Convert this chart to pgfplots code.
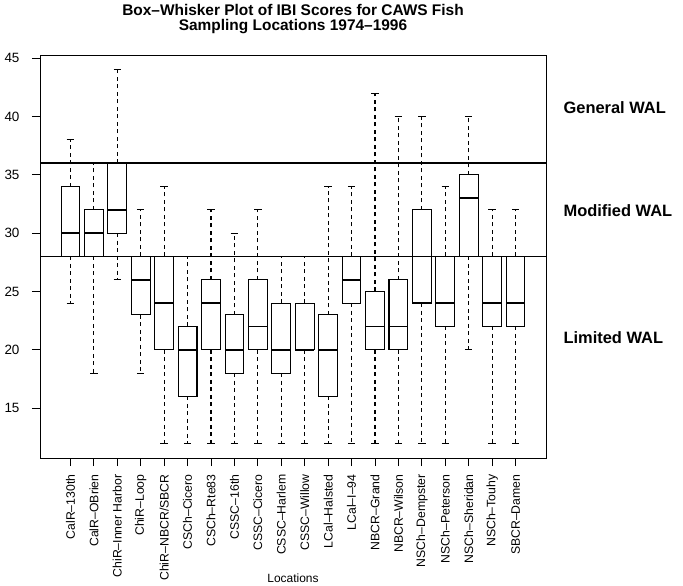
\documentclass[border=0pt]{standalone}
\usepackage{fontspec}
\setmainfont{Liberation Sans}
\usepackage{pgfplots}
\pgfplotsset{compat=1.18}
\usepgfplotslibrary{statistics}
\begin{document}
\begin{tikzpicture}
\useasboundingbox (0,0) rectangle (683bp,586bp);
\begin{axis}[
  at={(40bp,128bp)}, anchor=south west,
  scale only axis, width=506bp, height=403bp,
  xmin=-0.3, xmax=21.3, ymin=10.72, ymax=45.28,
  axis line style={line width=0.9bp},
  xtick={1,...,20},
  xticklabels={CalR--130th, CalR--OBrien, ChiR--Inner Harbor, ChiR--Loop, ChiR--NBCR/SBCR, CSCh--Cicero, CSCh--Rte83, CSSC--16th, CSSC--Cicero, CSSC--Harlem, CSSC--Willow, LCal--Halsted, LCal--I--94, NBCR--Grand, NBCR--Wilson, NSCh--Dempster, NSCh--Peterson, NSCh--Sheridan, NSCh--Touhy, SBCR--Damen},
  ytick={15,20,...,45},
  tick align=outside, xtick pos=left, ytick pos=left,
  major tick length=8bp,
  tick style={line width=0.9bp, black},
  /pgf/number format/assume math mode=true,
  yticklabel style={font=\fontsize{13.5}{16}\selectfont},
  xticklabel style={rotate=90, anchor=east, font=\fontsize{12.3}{14}\selectfont},
  xticklabel shift=5bp,
  yticklabel shift=9bp,
  xlabel={Locations},
  xlabel style={at={(axis description cs:0.5,0)}, anchor=center, yshift=-120bp, font=\fontsize{12}{14}\selectfont},
  title={Box--Whisker Plot of IBI Scores for CAWS Fish\\Sampling Locations 1974--1996},
  title style={align=center, font=\bfseries\fontsize{15.5}{14.5}\selectfont, at={(axis description cs:0.5,1)}, anchor=south, yshift=12bp},
  clip=false,
  boxplot/draw direction=y,
  boxplot/box extend=0.8,
  boxplot/every box/.style={line width=1.1bp},
  boxplot/every median/.style={line width=1.5bp},
  boxplot/draw/lower whisker/.code={%
    \draw[black, line width=1.1bp, dash pattern=on 4bp off 3.5bp]
      (boxplot box cs:\pgfplotsboxplotvalue{lower quartile},0.5) --
      (boxplot box cs:\pgfplotsboxplotvalue{lower whisker},0.5);
    \draw[black, line width=1.1bp]
      (boxplot box cs:\pgfplotsboxplotvalue{lower whisker},0.3) --
      (boxplot box cs:\pgfplotsboxplotvalue{lower whisker},0.7);
  },
  boxplot/draw/upper whisker/.code={%
    \draw[black, line width=1.1bp, dash pattern=on 4bp off 3.5bp]
      (boxplot box cs:\pgfplotsboxplotvalue{upper quartile},0.5) --
      (boxplot box cs:\pgfplotsboxplotvalue{upper whisker},0.5);
    \draw[black, line width=1.1bp]
      (boxplot box cs:\pgfplotsboxplotvalue{upper whisker},0.3) --
      (boxplot box cs:\pgfplotsboxplotvalue{upper whisker},0.7);
  },
]
% draw position, lower whisker, lower quartile, median, upper quartile, upper whisker
\addplot[black, boxplot prepared={draw position=1,  lower whisker=24, lower quartile=28, median=30, upper quartile=34, upper whisker=38}] coordinates {};
\addplot[black, boxplot prepared={draw position=2,  lower whisker=18, lower quartile=28, median=30, upper quartile=32, upper whisker=36}] coordinates {};
\addplot[black, boxplot prepared={draw position=3,  lower whisker=26, lower quartile=30, median=32, upper quartile=36, upper whisker=44}] coordinates {};
\addplot[black, boxplot prepared={draw position=4,  lower whisker=18, lower quartile=23, median=26, upper quartile=28, upper whisker=32}] coordinates {};
\addplot[black, boxplot prepared={draw position=5,  lower whisker=12, lower quartile=20, median=24, upper quartile=28, upper whisker=34}] coordinates {};
\addplot[black, boxplot prepared={draw position=6,  lower whisker=12, lower quartile=16, median=20, upper quartile=22, upper whisker=28}] coordinates {};
\addplot[black, boxplot prepared={draw position=7,  lower whisker=12, lower quartile=20, median=24, upper quartile=26, upper whisker=32}] coordinates {};
\addplot[black, boxplot prepared={draw position=8,  lower whisker=12, lower quartile=18, median=20, upper quartile=23, upper whisker=30}] coordinates {};
\addplot[black, boxplot prepared={draw position=9,  lower whisker=12, lower quartile=20, median=22, upper quartile=26, upper whisker=32}] coordinates {};
\addplot[black, boxplot prepared={draw position=10, lower whisker=12, lower quartile=18, median=20, upper quartile=24, upper whisker=28}] coordinates {};
\addplot[black, boxplot prepared={draw position=11, lower whisker=12, lower quartile=20, median=20, upper quartile=24, upper whisker=28}] coordinates {};
\addplot[black, boxplot prepared={draw position=12, lower whisker=12, lower quartile=16, median=20, upper quartile=23, upper whisker=34}] coordinates {};
\addplot[black, boxplot prepared={draw position=13, lower whisker=12, lower quartile=24, median=26, upper quartile=28, upper whisker=34}] coordinates {};
\addplot[black, boxplot prepared={draw position=14, lower whisker=12, lower quartile=20, median=22, upper quartile=25, upper whisker=42}] coordinates {};
\addplot[black, boxplot prepared={draw position=15, lower whisker=12, lower quartile=20, median=22, upper quartile=26, upper whisker=40}] coordinates {};
\addplot[black, boxplot prepared={draw position=16, lower whisker=12, lower quartile=24, median=24, upper quartile=32, upper whisker=40}] coordinates {};
\addplot[black, boxplot prepared={draw position=17, lower whisker=12, lower quartile=22, median=24, upper quartile=28, upper whisker=34}] coordinates {};
\addplot[black, boxplot prepared={draw position=18, lower whisker=20, lower quartile=28, median=33, upper quartile=35, upper whisker=40}] coordinates {};
\addplot[black, boxplot prepared={draw position=19, lower whisker=12, lower quartile=22, median=24, upper quartile=28, upper whisker=32}] coordinates {};
\addplot[black, boxplot prepared={draw position=20, lower whisker=12, lower quartile=22, median=24, upper quartile=28, upper whisker=32}] coordinates {};
% WAL thresholds
\addplot[black, line width=1.8bp] coordinates {(-0.3,36) (21.3,36)};
\addplot[black, line width=1.8bp] coordinates {(-0.3,28) (21.3,28)};
\node[anchor=west, font=\bfseries\fontsize{16.5}{18}\selectfont] at (axis cs:21.9,40.75) {General WAL};
\node[anchor=west, font=\bfseries\fontsize{16.5}{18}\selectfont] at (axis cs:21.9,31.95) {Modified WAL};
\node[anchor=west, font=\bfseries\fontsize{16.5}{18}\selectfont] at (axis cs:21.9,21.07) {Limited WAL};
\end{axis}
\end{tikzpicture}
\end{document}
